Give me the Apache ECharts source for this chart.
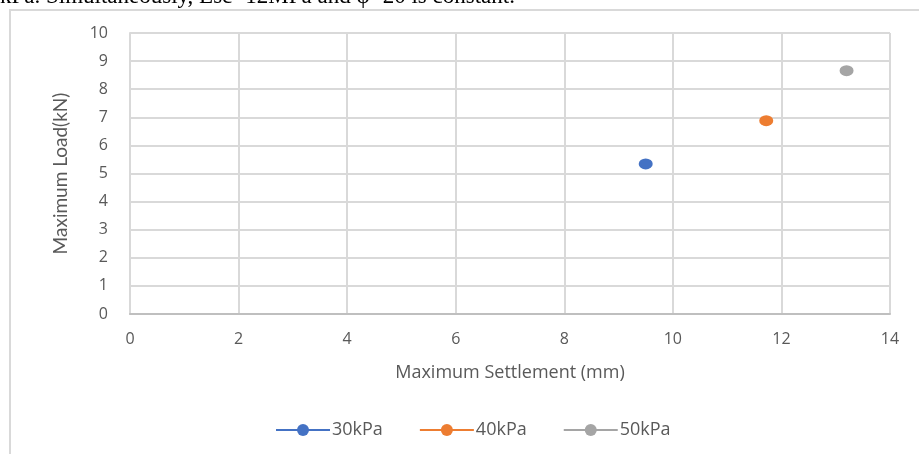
<!DOCTYPE html>
<html>
<head>
<meta charset="utf-8">
<script src="https://cdn.jsdelivr.net/npm/echarts@6/dist/echarts.min.js"></script>
<style>
  html, body { margin: 0; padding: 0; background: #fff; }
  #chart { width: 919px; height: 454px; }
</style>
</head>
<body>
<div id="chart"></div>
<script>
// Surcharge pressure groups and their measured maxima
const pressures = ['30kPa', '40kPa', '50kPa'];
const maxSettlement = [9.5, 11.72, 13.2];   // mm
const maxLoad = [5.34, 6.88, 8.66];          // kN
const colors = ['#4472C4', '#ED7D31', '#A5A5A5'];

const xTicks = { min: 0, max: 14, interval: 2 };
const yTicks = { min: 0, max: 10, interval: 1 };

const chart = echarts.init(document.getElementById('chart'));

const series = pressures.map((name, i) => ({
  name: name,
  type: 'line',
  data: [[maxSettlement[i], maxLoad[i]]],
  symbol: 'circle',
  symbolSize: [14, 11],
  itemStyle: { color: colors[i] },
  lineStyle: { color: colors[i], width: 2.5 },
  z: 3
}));

chart.setOption({
  animation: false,
  backgroundColor: '#fff',
  graphic: [
    {
      type: 'rect',
      shape: { x: 10, y: 10, width: 940, height: 480 },
      style: { fill: 'none', stroke: '#d9d9d9', lineWidth: 2 },
      silent: true,
      z: -1
    },
    {
      type: 'text',
      left: 0,
      top: -15,
      style: {
        text: 'kPa. Simultaneously, Esc=12MPa and φ=20 is constant.',
        font: '23px "Liberation Serif", serif',
        fill: '#000'
      }
    }
  ],
  grid: { left: 130, right: 29, top: 33, bottom: 140, containLabel: false },
  legend: {
    data: pressures,
    bottom: 10,
    left: 270,
    itemWidth: 54,
    itemHeight: 15,
    itemGap: 36,
    textStyle: { color: '#595959', fontSize: 18, fontFamily: 'Open Sans', padding: [0, 0, 0, -3] }
  },
  xAxis: {
    type: 'value',
    min: xTicks.min, max: xTicks.max, interval: xTicks.interval,
    name: 'Maximum Settlement (mm)',
    nameLocation: 'middle',
    nameGap: 50,
    nameTextStyle: { color: '#595959', fontSize: 18, fontFamily: 'Open Sans' },
    axisLine: { show: true, lineStyle: { color: '#bfbfbf', width: 2 } },
    axisTick: { show: false },
    axisLabel: { color: '#595959', fontSize: 16, fontFamily: 'Open Sans', margin: 17 },
    splitLine: { show: true, lineStyle: { color: '#d9d9d9', width: 2 } }
  },
  yAxis: {
    type: 'value',
    min: yTicks.min, max: yTicks.max, interval: yTicks.interval,
    name: 'Maximum Load(kN)',
    nameLocation: 'middle',
    nameGap: 60,
    nameTextStyle: { color: '#595959', fontSize: 19, fontFamily: 'Lato' },
    axisLine: { show: true, lineStyle: { color: '#d9d9d9', width: 2 } },
    axisTick: { show: false },
    axisLabel: { color: '#595959', fontSize: 16, fontFamily: 'Open Sans', margin: 22 },
    splitLine: { show: true, lineStyle: { color: '#d9d9d9', width: 2 } }
  },
  series: series
});
</script>
</body>
</html>
